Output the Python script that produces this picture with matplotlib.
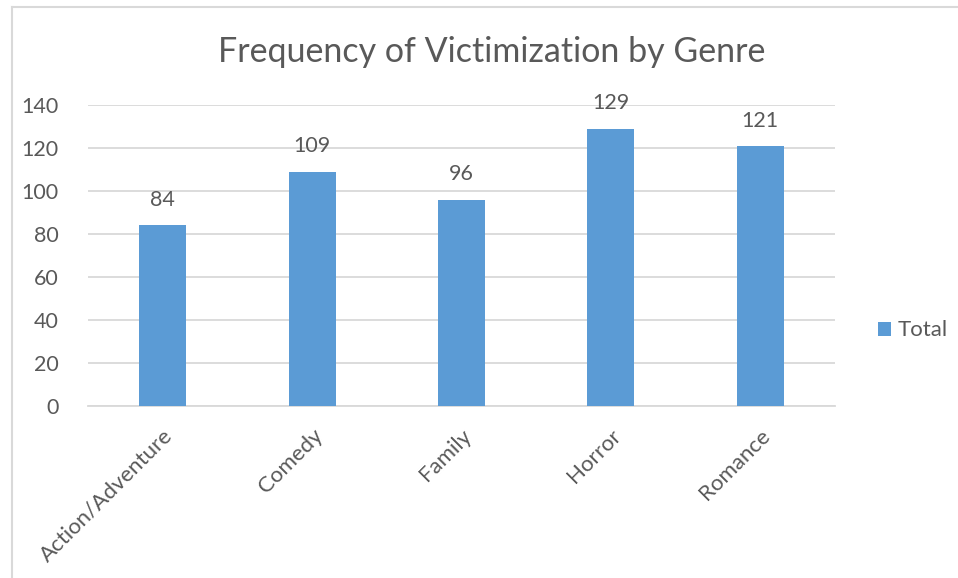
import matplotlib
matplotlib.use("Agg")
import matplotlib.pyplot as plt
from matplotlib.lines import Line2D

genres = ["Action/Adventure", "Comedy", "Family", "Horror", "Romance"]
totals = [84, 109, 96, 129, 121]
y_ticks = [0, 20, 40, 60, 80, 100, 120, 140]
series_name = "Total"
title = "Frequency of Victimization by Genre"

BAR = "#5B9BD5"
TEXT = "#595959"
GRID = "#D9D9D9"

plt.rcParams["font.family"] = ["Lato", "DejaVu Sans"]

W, H = 958, 578
fig = plt.figure(figsize=(W / 100, H / 100), dpi=100)

# chart frame (left and top edges visible)
fig.add_artist(Line2D([12 / W, 12 / W], [0, 1 - 7 / H], color=GRID, lw=1.5, transform=fig.transFigure))
fig.add_artist(Line2D([12 / W, 1], [1 - 7 / H, 1 - 7 / H], color=GRID, lw=1.5, transform=fig.transFigure))

left, right = 88 / W, 835 / W
bottom, top = 1 - 406 / H, 1 - 105 / H
ax = fig.add_axes([left, bottom, right - left, top - bottom])

x = list(range(len(genres)))
bars = ax.bar(x, totals, width=0.315, color=BAR, zorder=3, label=series_name)

ax.set_xlim(-0.5, len(genres) - 0.5)
ax.set_ylim(0, 140)
ax.set_yticks(y_ticks)
ax.set_yticklabels([str(v) for v in y_ticks], fontsize=15.5, color=TEXT)
ax.yaxis.grid(True, color=GRID, lw=1.3, zorder=0)
ax.set_axisbelow(True)
ax.tick_params(axis="both", length=0)
ax.tick_params(axis="y", pad=21)

for s in ["left", "right", "top"]:
    ax.spines[s].set_visible(False)
ax.spines["bottom"].set_color(GRID)
ax.spines["bottom"].set_linewidth(1.3)

ax.set_xticks(x)
ax.set_xticklabels(genres, rotation=45, ha="right", va="top", rotation_mode="anchor",
                   fontsize=16, color=TEXT)
ax.tick_params(axis="x", pad=14)

for xi, v in zip(x, totals):
    ax.annotate(str(v), (xi, v), xytext=(0, 11), textcoords="offset points",
                ha="center", va="bottom", fontsize=15.5, color=TEXT)

fig.text(492 / W, 1 - 52 / H, title, ha="center", va="center",
         fontsize=24.5, color=TEXT)

ax.legend(loc="center left", bbox_to_anchor=(1.045, 0.5 - (330 - 255) / 301), frameon=False,
          fontsize=16, labelcolor=TEXT, handlelength=0.6, handleheight=0.6, handletextpad=0.3,
          borderaxespad=0)

fig.savefig("out.png", dpi=100)
